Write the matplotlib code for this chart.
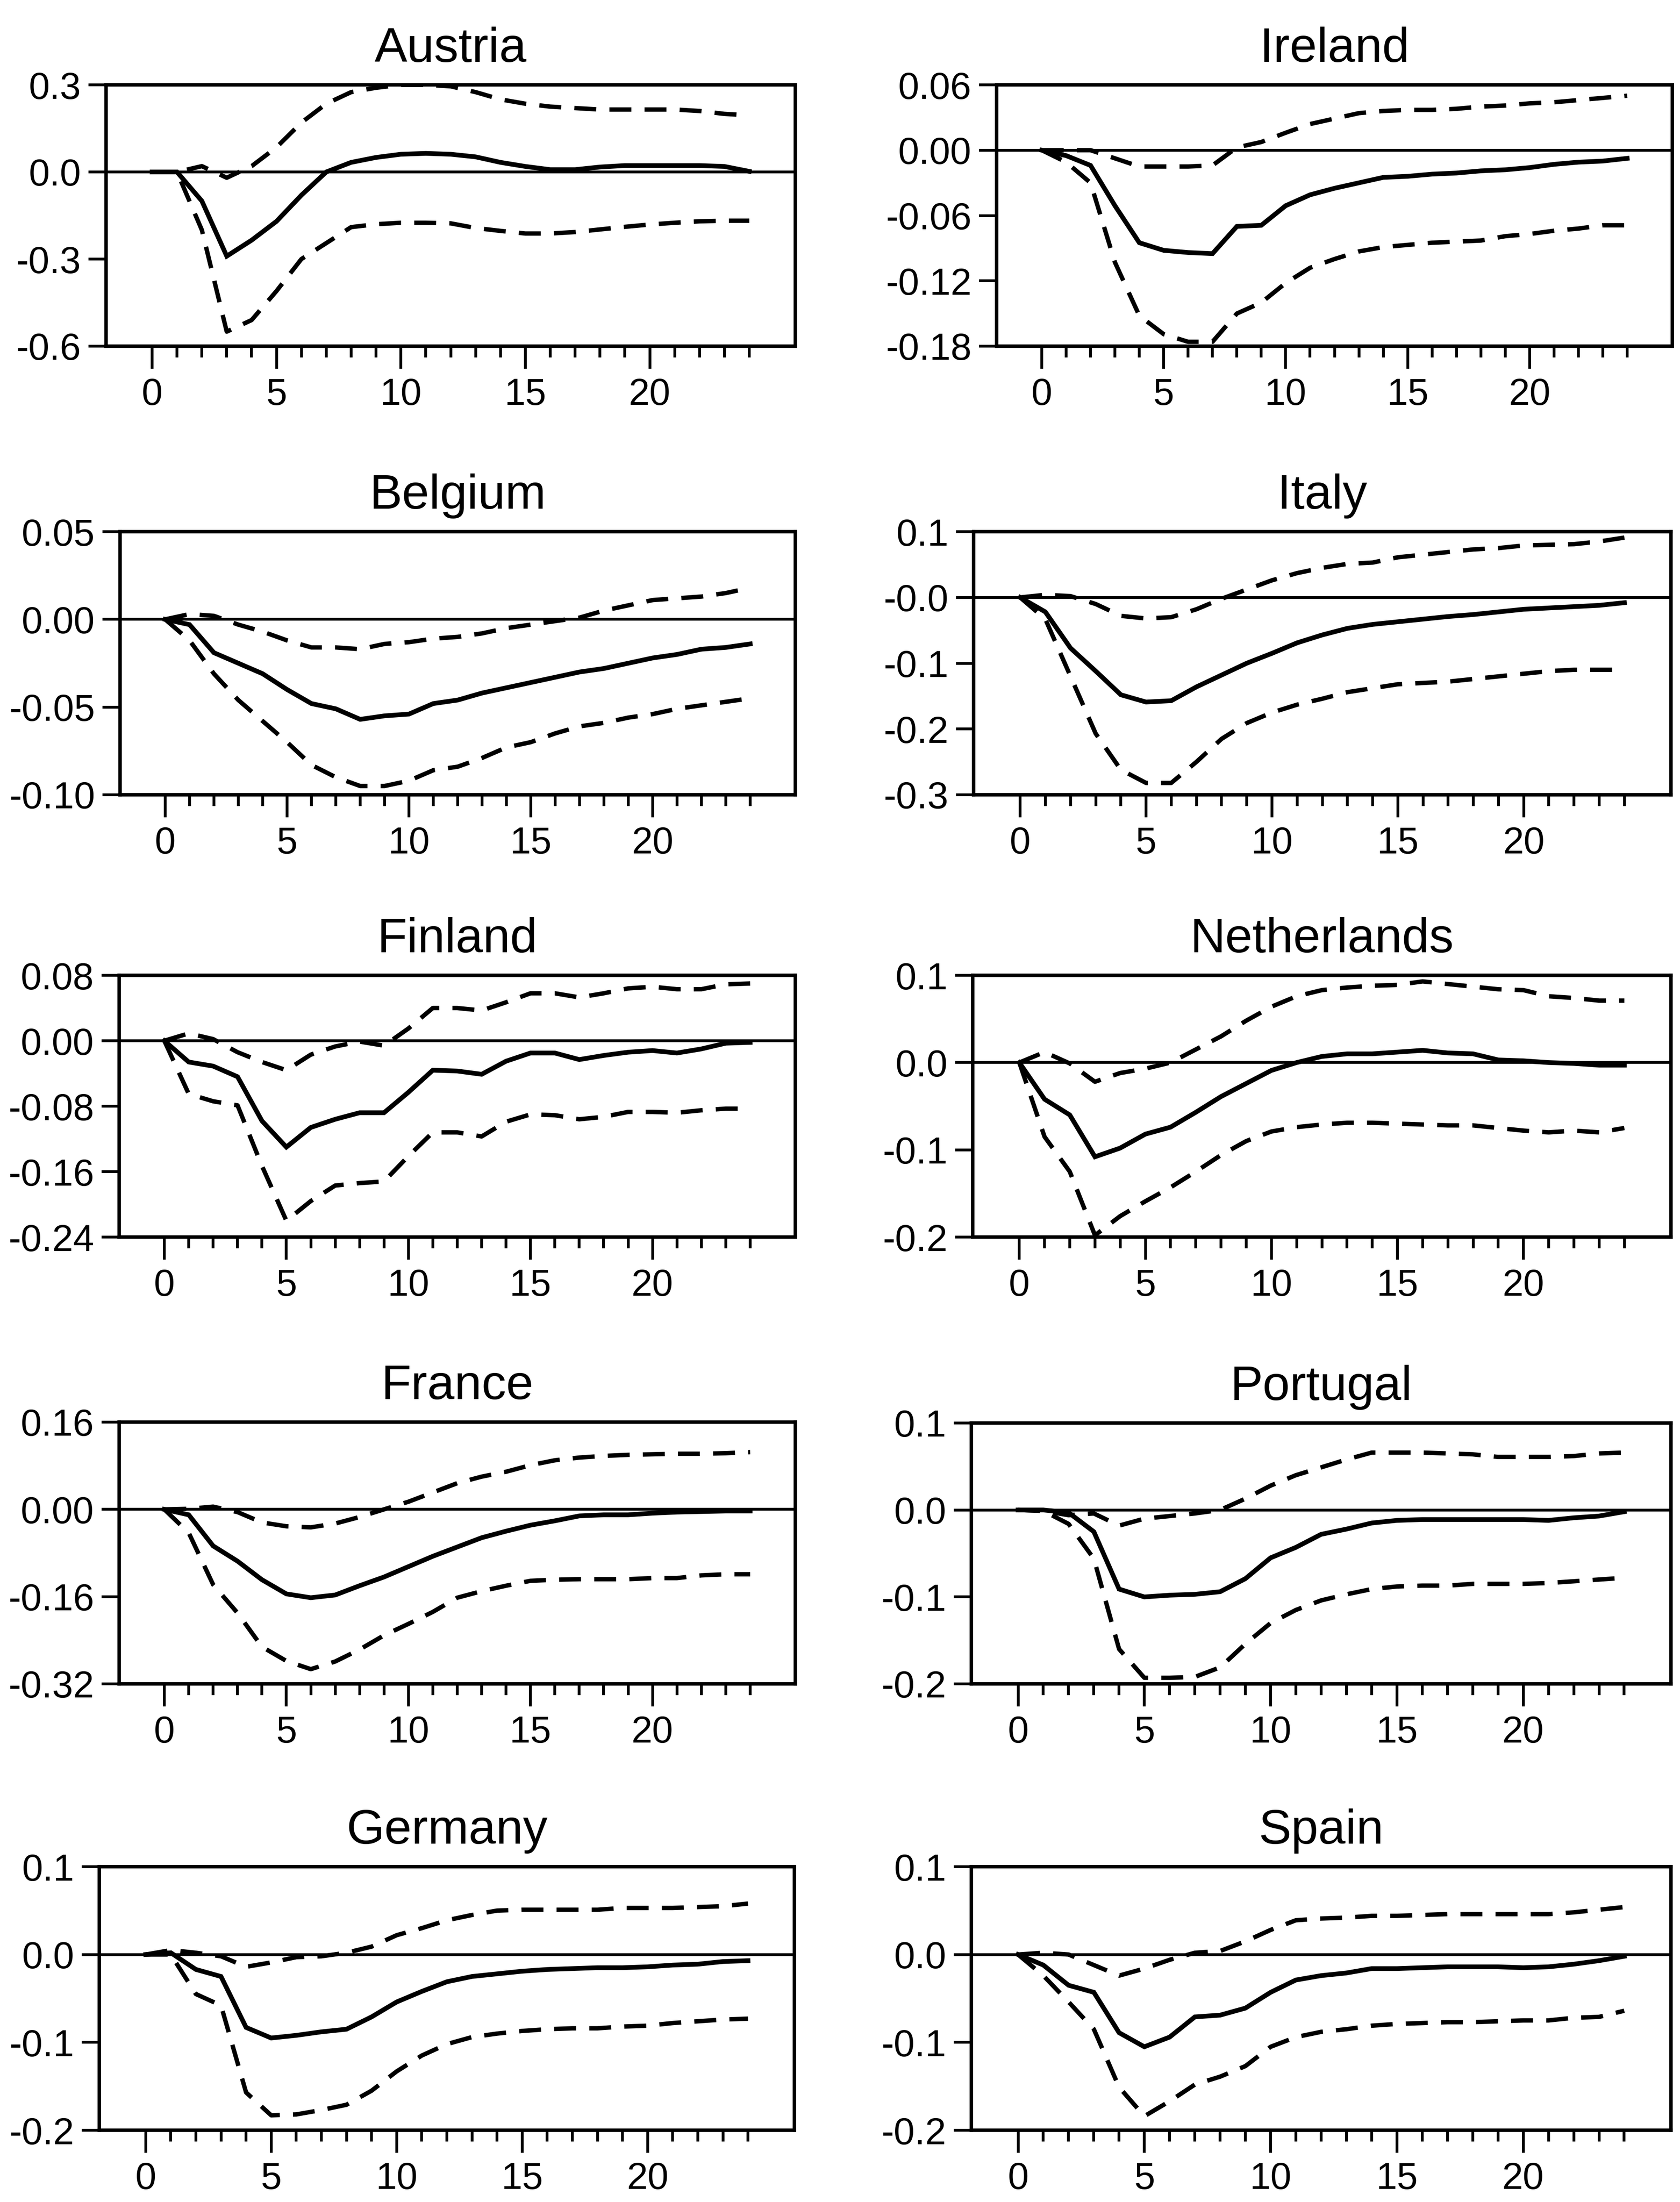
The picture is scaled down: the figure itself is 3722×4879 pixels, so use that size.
import matplotlib
matplotlib.use("Agg")
import matplotlib.pyplot as plt
from matplotlib import font_manager

# Impulse responses over a 24-period horizon: point estimate plus upper / lower bands
horizon = list(range(25))

austria_irf = [0, 0, -0.10, -0.29, -0.235, -0.17, -0.08, 0.0, 0.033, 0.05, 0.061, 0.064, 0.061,
               0.052, 0.033, 0.019, 0.008, 0.008, 0.017, 0.022, 0.022, 0.022, 0.022, 0.019, 0.002]
austria_upper = [0, 0, 0.02, -0.02, 0.02, 0.085, 0.17, 0.235, 0.275, 0.29, 0.30, 0.30, 0.295,
                 0.275, 0.25, 0.235, 0.225, 0.22, 0.215, 0.215, 0.215, 0.215, 0.21, 0.2, 0.195]
austria_lower = [0, 0, -0.2, -0.55, -0.51, -0.41, -0.30, -0.245, -0.19, -0.18, -0.175, -0.175, -0.177,
                 -0.193, -0.203, -0.212, -0.212, -0.207, -0.198, -0.189, -0.181, -0.175, -0.17, -0.168, -0.168]

ireland_irf = [0, -0.005, -0.014, -0.051, -0.085, -0.092, -0.094, -0.095, -0.07, -0.069, -0.051, -0.041, -0.035,
               -0.030, -0.025, -0.024, -0.022, -0.021, -0.019, -0.018, -0.016, -0.013, -0.011, -0.01, -0.0075]
ireland_upper = [0, 0, 0, -0.0075, -0.015, -0.015, -0.015, -0.014, 0.0025, 0.0075, 0.016, 0.024, 0.029,
                 0.034, 0.036, 0.037, 0.037, 0.038, 0.04, 0.041, 0.043, 0.044, 0.046, 0.048, 0.05]
ireland_lower = [0, -0.011, -0.03, -0.103, -0.152, -0.169, -0.176, -0.176, -0.15, -0.14, -0.122, -0.108, -0.1,
                 -0.093, -0.089, -0.087, -0.085, -0.084, -0.083, -0.079, -0.077, -0.074, -0.072, -0.069, -0.069]

belgium_irf = [0, -0.003, -0.019, -0.025, -0.031, -0.04, -0.048, -0.051, -0.057, -0.055, -0.054, -0.048, -0.046,
               -0.042, -0.039, -0.036, -0.033, -0.03, -0.028, -0.025, -0.022, -0.02, -0.017, -0.016, -0.014]
belgium_upper = [0, 0.003, 0.002, -0.003, -0.007, -0.012, -0.016, -0.016, -0.017, -0.014, -0.013, -0.011, -0.01,
                 -0.008, -0.005, -0.003, -0.001, 0.001, 0.005, 0.008, 0.011, 0.012, 0.013, 0.015, 0.018]
belgium_lower = [0, -0.012, -0.031, -0.046, -0.058, -0.07, -0.083, -0.09, -0.095, -0.095, -0.092, -0.086, -0.084,
                 -0.079, -0.073, -0.07, -0.065, -0.061, -0.059, -0.056, -0.054, -0.051, -0.049, -0.047, -0.045]

italy_irf = [0, -0.022, -0.077, -0.112, -0.148, -0.159, -0.157, -0.136, -0.118, -0.1, -0.085, -0.069, -0.057,
             -0.047, -0.041, -0.037, -0.033, -0.029, -0.026, -0.022, -0.018, -0.016, -0.014, -0.012, -0.008]
italy_upper = [0, 0.004, 0.002, -0.01, -0.028, -0.032, -0.03, -0.018, -0.002, 0.012, 0.026, 0.037, 0.045,
               0.051, 0.053, 0.061, 0.065, 0.069, 0.073, 0.075, 0.079, 0.08, 0.081, 0.085, 0.091]
italy_lower = [0, -0.033, -0.12, -0.207, -0.262, -0.282, -0.282, -0.25, -0.215, -0.191, -0.175, -0.163, -0.154,
               -0.144, -0.138, -0.132, -0.13, -0.128, -0.124, -0.12, -0.116, -0.112, -0.11, -0.11, -0.11]

finland_irf = [0, -0.026, -0.031, -0.044, -0.098, -0.13, -0.106, -0.096, -0.088, -0.088, -0.063, -0.036, -0.037,
               -0.041, -0.025, -0.015, -0.015, -0.023, -0.018, -0.014, -0.012, -0.015, -0.01, -0.003, -0.002]
finland_upper = [0, 0.009, 0.002, -0.014, -0.026, -0.036, -0.017, -0.007, -0.001, -0.006, 0.015, 0.04, 0.04,
                 0.037, 0.047, 0.058, 0.058, 0.053, 0.058, 0.064, 0.066, 0.063, 0.063, 0.069, 0.07]
finland_lower = [0, -0.065, -0.074, -0.079, -0.153, -0.22, -0.196, -0.177, -0.174, -0.172, -0.141, -0.112, -0.112,
                 -0.117, -0.099, -0.09, -0.091, -0.096, -0.093, -0.087, -0.087, -0.088, -0.085, -0.083, -0.083]

netherlands_irf = [0, -0.042, -0.06, -0.108, -0.098, -0.082, -0.074, -0.057, -0.039, -0.024, -0.009, 0.0, 0.007,
                   0.01, 0.01, 0.012, 0.014, 0.011, 0.01, 0.003, 0.002, 0.0, -0.001, -0.003, -0.003]
netherlands_upper = [0, 0.012, -0.001, -0.022, -0.012, -0.007, 0.0, 0.015, 0.03, 0.048, 0.064, 0.076, 0.083,
                     0.086, 0.088, 0.089, 0.093, 0.09, 0.087, 0.084, 0.083, 0.076, 0.074, 0.071, 0.071]
netherlands_lower = [0, -0.085, -0.125, -0.198, -0.176, -0.159, -0.143, -0.125, -0.106, -0.09, -0.079, -0.074, -0.071,
                     -0.069, -0.069, -0.07, -0.071, -0.072, -0.072, -0.075, -0.078, -0.08, -0.078, -0.08, -0.075]

france_irf = [0, -0.01, -0.067, -0.095, -0.129, -0.155, -0.162, -0.157, -0.14, -0.124, -0.105, -0.086, -0.069,
              -0.052, -0.04, -0.029, -0.021, -0.012, -0.01, -0.01, -0.007, -0.005, -0.004, -0.003, -0.003]
france_upper = [0, 0.001, 0.005, -0.005, -0.024, -0.031, -0.033, -0.026, -0.014, 0.0, 0.014, 0.031, 0.048,
                0.06, 0.069, 0.081, 0.09, 0.095, 0.098, 0.1, 0.101, 0.102, 0.102, 0.103, 0.105]
france_lower = [0, -0.043, -0.138, -0.19, -0.252, -0.278, -0.293, -0.279, -0.257, -0.231, -0.21, -0.188, -0.162,
                -0.15, -0.14, -0.131, -0.129, -0.128, -0.128, -0.128, -0.126, -0.126, -0.121, -0.119, -0.119]

portugal_irf = [0, 0, -0.003, -0.025, -0.091, -0.1, -0.098, -0.097, -0.094, -0.079, -0.055, -0.043, -0.028,
                -0.022, -0.015, -0.012, -0.011, -0.011, -0.011, -0.011, -0.011, -0.012, -0.009, -0.007, -0.002]
portugal_upper = [0, -0.001, -0.006, -0.004, -0.018, -0.01, -0.007, -0.004, 0.0, 0.013, 0.028, 0.04, 0.049,
                  0.058, 0.066, 0.066, 0.066, 0.065, 0.064, 0.061, 0.061, 0.061, 0.062, 0.065, 0.066]
portugal_lower = [0, -0.001, -0.016, -0.056, -0.16, -0.193, -0.193, -0.192, -0.181, -0.154, -0.13, -0.115, -0.104,
                  -0.097, -0.091, -0.088, -0.087, -0.087, -0.085, -0.085, -0.085, -0.084, -0.082, -0.08, -0.078]

germany_irf = [0, 0.002, -0.017, -0.025, -0.083, -0.095, -0.092, -0.088, -0.085, -0.071, -0.054, -0.042, -0.031,
               -0.025, -0.022, -0.019, -0.017, -0.016, -0.015, -0.015, -0.014, -0.012, -0.011, -0.008, -0.007]
germany_upper = [0, 0.005, 0.002, -0.002, -0.014, -0.009, -0.003, -0.002, 0.002, 0.009, 0.022, 0.03, 0.039,
                 0.045, 0.05, 0.051, 0.051, 0.051, 0.051, 0.053, 0.053, 0.053, 0.054, 0.055, 0.058]
germany_lower = [0, 0.0, -0.045, -0.058, -0.157, -0.183, -0.182, -0.177, -0.171, -0.155, -0.133, -0.115, -0.102,
                 -0.094, -0.09, -0.087, -0.085, -0.084, -0.084, -0.082, -0.081, -0.078, -0.076, -0.074, -0.073]

spain_irf = [0, -0.012, -0.035, -0.043, -0.089, -0.105, -0.094, -0.071, -0.069, -0.061, -0.043, -0.029, -0.024,
             -0.021, -0.016, -0.016, -0.015, -0.014, -0.014, -0.014, -0.015, -0.014, -0.011, -0.007, -0.002]
spain_upper = [0, 0.002, 0.0, -0.012, -0.024, -0.016, -0.006, 0.002, 0.004, 0.015, 0.028, 0.039, 0.041,
               0.042, 0.044, 0.044, 0.045, 0.046, 0.046, 0.046, 0.046, 0.046, 0.048, 0.051, 0.054]
spain_lower = [0, -0.024, -0.054, -0.085, -0.151, -0.184, -0.167, -0.148, -0.139, -0.127, -0.105, -0.094, -0.088,
               -0.085, -0.081, -0.079, -0.078, -0.077, -0.077, -0.076, -0.075, -0.075, -0.072, -0.071, -0.064]

# y ticks and their printed labels for each country
austria_yticks = [0.3, 0.0, -0.3, -0.6]
austria_ylabels = ["0.3", "0.0", "-0.3", "-0.6"]
ireland_yticks = [0.06, 0.0, -0.06, -0.12, -0.18]
ireland_ylabels = ["0.06", "0.00", "-0.06", "-0.12", "-0.18"]
belgium_yticks = [0.05, 0.0, -0.05, -0.10]
belgium_ylabels = ["0.05", "0.00", "-0.05", "-0.10"]
italy_yticks = [0.1, 0.0, -0.1, -0.2, -0.3]
italy_ylabels = ["0.1", "-0.0", "-0.1", "-0.2", "-0.3"]
finland_yticks = [0.08, 0.0, -0.08, -0.16, -0.24]
finland_ylabels = ["0.08", "0.00", "-0.08", "-0.16", "-0.24"]
netherlands_yticks = [0.1, 0.0, -0.1, -0.2]
netherlands_ylabels = ["0.1", "0.0", "-0.1", "-0.2"]
france_yticks = [0.16, 0.0, -0.16, -0.32]
france_ylabels = ["0.16", "0.00", "-0.16", "-0.32"]
portugal_yticks = [0.1, 0.0, -0.1, -0.2]
portugal_ylabels = ["0.1", "0.0", "-0.1", "-0.2"]
germany_yticks = [0.1, 0.0, -0.1, -0.2]
germany_ylabels = ["0.1", "0.0", "-0.1", "-0.2"]
spain_yticks = [0.1, 0.0, -0.1, -0.2]
spain_ylabels = ["0.1", "0.0", "-0.1", "-0.2"]

panels = [
    ("Austria", austria_irf, austria_upper, austria_lower, austria_yticks, austria_ylabels),
    ("Ireland", ireland_irf, ireland_upper, ireland_lower, ireland_yticks, ireland_ylabels),
    ("Belgium", belgium_irf, belgium_upper, belgium_lower, belgium_yticks, belgium_ylabels),
    ("Italy", italy_irf, italy_upper, italy_lower, italy_yticks, italy_ylabels),
    ("Finland", finland_irf, finland_upper, finland_lower, finland_yticks, finland_ylabels),
    ("Netherlands", netherlands_irf, netherlands_upper, netherlands_lower, netherlands_yticks, netherlands_ylabels),
    ("France", france_irf, france_upper, france_lower, france_yticks, france_ylabels),
    ("Portugal", portugal_irf, portugal_upper, portugal_lower, portugal_yticks, portugal_ylabels),
    ("Germany", germany_irf, germany_upper, germany_lower, germany_yticks, germany_ylabels),
    ("Spain", spain_irf, spain_upper, spain_lower, spain_yticks, spain_ylabels),
]

# axes boxes in pixels: left, top, right, bottom
W, H = 3722, 4879
boxes = [
    (235, 188, 1762, 767), (2208, 188, 3705, 767),
    (266, 1178, 1762, 1761), (2157, 1178, 3702, 1761),
    (264, 2161, 1762, 2741), (2155, 2161, 3702, 2741),
    (264, 3151, 1762, 3731), (2152, 3153, 3702, 3731),
    (220, 4136, 1760, 4720), (2152, 4136, 3702, 4720),
]


def pick_font(names):
    for name in names:
        try:
            font_manager.findfont(name, fallback_to_default=False)
            return name
        except ValueError:
            continue
    return "DejaVu Sans"


tick_font = pick_font(["Liberation Sans", "Arial", "DejaVu Sans"])
title_font = pick_font(["Liberation Sans Narrow", "Arial Narrow"])
title_size = 90
if title_font == "DejaVu Sans":
    title_font = tick_font
    title_size = 78

plt.rcParams["font.family"] = tick_font

fig = plt.figure(figsize=(W / 100, H / 100), dpi=100)
fig.patch.set_facecolor("white")

dash = (0, (5, 3))

for (name, irf, upper, lower, yticks, ylabels), (l, t, r, b) in zip(panels, boxes):
    ax = fig.add_axes([l / W, 1 - b / H, (r - l) / W, (b - t) / H])
    ax.axhline(0, color="black", lw=4.5, zorder=1)
    ax.plot(horizon, irf, color="black", lw=7.5, solid_joinstyle="miter", zorder=3)
    ax.plot(horizon, upper, color="black", lw=7, linestyle=dash, zorder=2)
    ax.plot(horizon, lower, color="black", lw=7, linestyle=dash, zorder=2)

    ax.set_xlim(-1.85, 25.85)
    ax.set_ylim(min(yticks), max(yticks))
    ax.set_xticks(range(0, 21, 5))
    ax.set_xticks(horizon, minor=True)
    ax.set_yticks(yticks)
    ax.set_yticklabels(ylabels)

    ax.tick_params(axis="x", which="major", direction="out", length=36, width=4.5,
                   pad=14, labelsize=60, top=False)
    ax.tick_params(axis="x", which="minor", direction="out", length=18, width=4.5, top=False)
    ax.tick_params(axis="y", direction="out", length=28, width=4.5, pad=12,
                   labelsize=60, right=False)
    for spine in ax.spines.values():
        spine.set_linewidth(5.5)

    ax.set_title(name, fontsize=title_size, family=title_font, pad=37)

fig.savefig("out.png", dpi=100, facecolor="white")
